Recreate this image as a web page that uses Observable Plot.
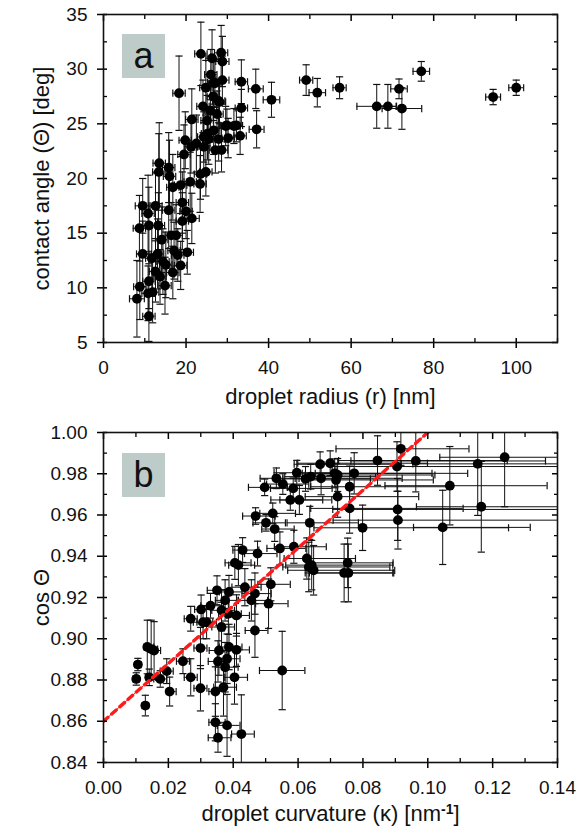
<!DOCTYPE html>
<html>
<head>
<meta charset="utf-8">
<script src="https://cdn.jsdelivr.net/npm/d3@7"></script>
<script src="https://cdn.jsdelivr.net/npm/@observablehq/plot@0.6"></script>
<style>
  html, body { margin: 0; padding: 0; background: #fff; }
  #wrap { position: relative; width: 577px; }
  .panel { display: block; }
  .tag { position: absolute; width: 43px; height: 44px; background: #bdcbc9;
         font-family: "Liberation Sans", Arial, sans-serif; font-size: 36px; color: #111;
         display: flex; align-items: center; justify-content: center; line-height: 1; }
</style>
</head>
<body>
<div id="wrap"></div>
<script>
// ---------- Panel a : contact angle vs droplet radius ----------
const radius = [49.1,51.8,57.2,66.2,68.9,71.6,72.3,77.0,94.4,100.0,40.7,36.9,37.1,33.4,33.4,33.1,32.2,29.9,30.2,28.6,28.8,28.8,28.5,26.3,23.6,18.3,24.8,24.1,21.4,19.8,19.5,21.2,22.5,24.3,25.2,26.6,27.0,27.9,27.5,24.8,23.4,21.0,18.7,16.8,15.8,16.0,13.5,13.4,9.5,12.6,10.8,15.8,19.1,20.0,21.4,19.1,8.7,11.0,13.3,14.1,16.4,17.6,17.1,20.3,18.0,9.5,13.1,11.7,14.4,15.1,18.7,12.6,16.8,13.7,11.0,8.8,11.9,10.8,14.9,8.1,11.0,25.9,25.1,26.7,25.5,27.9,24.3,27.1,23.5,29.6,31.6,26.7,28.1,26.0];
const angle = [29.0,27.85,28.3,26.6,26.6,28.2,26.4,29.8,27.45,28.3,27.2,28.2,24.5,28.85,26.45,23.9,24.85,24.85,23.7,22.6,29.0,30.7,31.5,31.0,31.4,27.8,28.3,26.6,25.4,23.5,22.2,22.9,23.2,23.8,24.1,27.5,28.7,27.1,25.9,20.6,19.5,19.7,19.4,19.2,21.0,20.2,21.4,20.6,17.5,17.5,16.8,17.1,17.8,17.0,16.35,16.1,15.45,15.7,15.7,14.4,14.8,14.8,13.4,13.25,13.0,13.1,13.1,12.7,12.4,12.1,12.05,11.5,11.4,11.0,10.6,10.1,9.6,9.5,10.2,9.0,7.4,26.2,25.3,24.4,23.6,23.6,22.9,22.6,20.4,24.8,24.8,28.8,27.0,29.5];
const radiusErr = [1.6,2.0,1.6,4.8,2.0,2.0,4.8,2.0,1.8,1.8,2.0,1.8,1.8,1.5,1.5,1.5,1.5,1.5,1.5,1.5,1.6,1.6,1.6,1.5,1.5,1.5,1.5,1.5,1.5,1.5,1.5,1.5,1.5,1.5,1.5,1.5,1.5,1.5,1.5,1.5,1.5,1.5,1.5,1.5,1.5,1.5,1.5,1.5,1.8,1.6,1.5,1.5,1.5,1.5,1.8,1.5,1.5,1.5,1.5,1.5,1.5,1.5,1.5,1.5,1.5,1.5,1.5,1.5,1.5,1.5,1.5,1.5,1.5,1.5,1.5,1.5,1.5,1.5,1.5,1.8,1.5,1.5,1.5,1.5,1.5,1.5,1.5,1.5,1.5,1.5,1.5,1.5,1.5,1.5];
const angleErr = [1.4,1.3,1.0,2.0,2.0,0.9,1.9,0.9,0.7,0.7,1.6,1.8,1.7,2.0,1.7,1.7,1.5,1.5,1.8,2.0,2.2,2.3,2.5,2.6,2.9,3.4,2.5,2.4,2.8,2.6,2.7,2.4,2.6,2.3,2.4,2.2,2.2,2.0,2.1,2.2,2.6,2.7,2.6,3.0,3.2,3.3,3.7,3.5,2.5,3.0,3.5,3.5,2.8,2.5,2.3,2.6,3.0,3.5,3.0,3.0,3.0,2.8,2.6,2.0,2.4,3.0,3.2,3.0,3.0,3.0,2.2,2.8,2.4,2.5,2.5,3.0,2.8,2.5,2.6,3.5,2.3,2.2,2.3,2.2,2.3,2.0,2.2,2.1,2.3,1.8,1.6,2.0,2.0,2.3];
const radiusTicks = [0,20,40,60,80,100];
const radiusMinor = [10,30,50,70,90,110];
const angleTicks = [5,10,15,20,25,30,35];
const angleMinor = [7.5,12.5,17.5,22.5,27.5,32.5];

// ---------- Panel b : cos(theta) vs droplet curvature ----------
const curvature = [0.0101,0.0106,0.0129,0.0135,0.0141,0.0147,0.0156,0.0175,0.0195,0.0204,0.0245,0.0269,0.0269,0.0299,0.0299,0.0301,0.0307,0.0330,0.0318,0.0350,0.0345,0.0345,0.0353,0.0381,0.0425,0.0353,0.0356,0.0364,0.0370,0.0375,0.0364,0.0375,0.0387,0.0385,0.0381,0.0387,0.0404,0.0410,0.0410,0.0405,0.0416,0.0429,0.0436,0.0456,0.0467,0.0467,0.0475,0.0469,0.0501,0.0497,0.0522,0.0516,0.0509,0.0528,0.0533,0.0544,0.0553,0.0551,0.0576,0.0585,0.0587,0.0596,0.0604,0.0636,0.0627,0.0633,0.0642,0.0648,0.0623,0.0639,0.0668,0.0671,0.0699,0.0713,0.0717,0.0722,0.0722,0.0759,0.0759,0.0753,0.0742,0.0755,0.0773,0.0799,0.0845,0.0905,0.0917,0.0907,0.0908,0.0963,0.1046,0.1068,0.1154,0.1165,0.1237];
const cosTheta = [0.8805,0.8875,0.8676,0.8960,0.8813,0.8950,0.8943,0.8805,0.8843,0.8744,0.8891,0.9097,0.8813,0.8760,0.8955,0.9142,0.9080,0.9160,0.9080,0.9235,0.8744,0.8595,0.8520,0.8580,0.8538,0.8890,0.8943,0.9057,0.8765,0.8862,0.9138,0.9186,0.9227,0.9121,0.8903,0.8960,0.8813,0.9113,0.8946,0.9368,0.9357,0.9430,0.9250,0.9186,0.9219,0.9040,0.9413,0.9595,0.9562,0.9734,0.9608,0.9264,0.9170,0.9532,0.9778,0.9438,0.9750,0.8846,0.9673,0.9729,0.9446,0.9805,0.9673,0.9562,0.9389,0.9348,0.9357,0.9332,0.9775,0.9786,0.9846,0.9778,0.9851,0.9802,0.9770,0.9794,0.9689,0.9737,0.9632,0.9368,0.9319,0.9319,0.9802,0.9538,0.9864,0.9835,0.9921,0.9627,0.9575,0.9862,0.9540,0.9742,0.9848,0.9640,0.9880];
const curvErrLow = [0.001,0.001,0.001,0.001,0.001,0.001,0.001,0.002,0.002,0.001,0.002,0.002,0.002,0.002,0.002,0.002,0.003,0.003,0.003,0.003,0.002,0.002,0.003,0.003,0.003,0.003,0.003,0.003,0.003,0.003,0.003,0.003,0.003,0.003,0.003,0.003,0.003,0.003,0.003,0.003,0.003,0.003,0.004,0.004,0.004,0.003,0.004,0.004,0.004,0.005,0.004,0.004,0.004,0.004,0.005,0.004,0.005,0.007,0.006,0.007,0.006,0.007,0.006,0.007,0.007,0.008,0.008,0.008,0.007,0.008,0.008,0.008,0.010,0.010,0.010,0.010,0.010,0.012,0.012,0.012,0.012,0.012,0.012,0.015,0.012,0.020,0.020,0.020,0.020,0.020,0.009,0.020,0.020,0.020,0.020];
const curvErrHigh = [0.001,0.001,0.001,0.002,0.002,0.002,0.002,0.002,0.002,0.002,0.002,0.002,0.002,0.002,0.002,0.003,0.003,0.004,0.003,0.004,0.003,0.003,0.004,0.004,0.004,0.003,0.003,0.004,0.004,0.004,0.004,0.004,0.005,0.004,0.004,0.004,0.004,0.004,0.004,0.005,0.005,0.005,0.005,0.005,0.005,0.004,0.006,0.006,0.006,0.007,0.007,0.006,0.006,0.006,0.007,0.008,0.008,0.007,0.010,0.012,0.010,0.012,0.010,0.015,0.015,0.025,0.025,0.025,0.020,0.020,0.025,0.025,0.030,0.030,0.030,0.030,0.025,0.030,0.035,0.014,0.015,0.014,0.035,0.045,0.040,0.050,0.021,0.050,0.050,0.040,0.027,0.030,0.030,0.040,0.040];
const cosErr = [0.003,0.003,0.005,0.013,0.004,0.014,0.014,0.004,0.006,0.007,0.006,0.006,0.009,0.011,0.010,0.007,0.008,0.006,0.008,0.007,0.012,0.009,0.007,0.015,0.019,0.010,0.012,0.012,0.014,0.012,0.010,0.010,0.008,0.010,0.012,0.011,0.013,0.010,0.008,0.008,0.010,0.006,0.009,0.010,0.010,0.013,0.006,0.004,0.004,0.004,0.005,0.008,0.012,0.006,0.005,0.008,0.005,0.019,0.005,0.005,0.008,0.006,0.007,0.008,0.010,0.012,0.012,0.012,0.006,0.006,0.006,0.008,0.006,0.007,0.008,0.008,0.010,0.010,0.012,0.012,0.014,0.014,0.010,0.011,0.012,0.012,0.008,0.015,0.014,0.015,0.018,0.019,0.025,0.022,0.024];
const fitCurvature = [0.0, 0.1];
const fitCos = [0.86, 1.0];
const curvTicks = [0,0.02,0.04,0.06,0.08,0.10,0.12,0.14];
const curvMinor = [0.01,0.03,0.05,0.07,0.09,0.11,0.13];
const cosTicks = [0.84,0.86,0.88,0.90,0.92,0.94,0.96,0.98,1.00];
const cosMinor = [0.85,0.87,0.89,0.91,0.93,0.95,0.97,0.99];

// ---------- helpers ----------
const FONT = '"Liberation Sans Narrow", "Arial Narrow", "Liberation Sans", Arial, sans-serif';
const hbar = {draw(ctx, size) { const r = Math.sqrt(size / Math.PI); ctx.moveTo(-r, 0); ctx.lineTo(r, 0); }};
const vbar = {draw(ctx, size) { const r = Math.sqrt(size / Math.PI); ctx.moveTo(0, -r); ctx.lineTo(0, r); }};
const blank = () => "";

function frameAxes(xt, xm, yt, ym, xfmt, yfmt) {
  return [
    Plot.axisX({anchor: "bottom", ticks: xt, tickSize: 0, tickPadding: 18, tickFormat: xfmt, fontSize: 19, fill: "#111"}),
    Plot.axisY({anchor: "left", ticks: yt, tickSize: 0, tickPadding: 16, tickFormat: yfmt, fontSize: 19, fill: "#111"}),
    Plot.axisX({anchor: "bottom", ticks: xt, tickSize: 10, dy: -4, tickFormat: blank, strokeWidth: 1.5}),
    Plot.axisY({anchor: "left", ticks: yt, tickSize: 10, dx: 4, tickFormat: blank, strokeWidth: 1.5}),
    Plot.axisX({anchor: "bottom", ticks: xm, tickSize: 4, dy: -4, tickFormat: blank, strokeWidth: 1.3}),
    Plot.axisY({anchor: "left", ticks: ym, tickSize: 4, dx: 4, tickFormat: blank, strokeWidth: 1.3}),
    Plot.axisX({anchor: "top", ticks: xt, tickSize: 6, dy: 6, tickFormat: blank, strokeWidth: 1.5}),
    Plot.axisX({anchor: "top", ticks: xm, tickSize: 4, dy: 4, tickFormat: blank, strokeWidth: 1.3}),
    Plot.axisY({anchor: "right", ticks: yt, tickSize: 6, dx: -6, tickFormat: blank, strokeWidth: 1.5}),
    Plot.axisY({anchor: "right", ticks: ym, tickSize: 4, dx: -4, tickFormat: blank, strokeWidth: 1.3}),
    Plot.frame({stroke: "#111", strokeWidth: 1.6})
  ];
}

function errorMarks(rows) {
  return [
    Plot.ruleX(rows, {x: "x", y1: "ylo", y2: "yhi", stroke: "#111", strokeWidth: 1, clip: true}),
    Plot.ruleY(rows, {y: "y", x1: "xlo", x2: "xhi", stroke: "#111", strokeWidth: 1, clip: true}),
    Plot.dot(rows, {x: "x", y: "ylo", symbol: hbar, r: 3.6, stroke: "#111", fill: "none", strokeWidth: 1.2, clip: true}),
    Plot.dot(rows, {x: "x", y: "yhi", symbol: hbar, r: 3.6, stroke: "#111", fill: "none", strokeWidth: 1.2, clip: true}),
    Plot.dot(rows, {x: "xlo", y: "y", symbol: vbar, r: 3.6, stroke: "#111", fill: "none", strokeWidth: 1.2, clip: true}),
    Plot.dot(rows, {x: "xhi", y: "y", symbol: vbar, r: 3.6, stroke: "#111", fill: "none", strokeWidth: 1.2, clip: true}),
    Plot.dot(rows, {x: "x", y: "y", r: 4.9, fill: "#000", stroke: "none", clip: true})
  ];
}

const rowsA = radius.map((x, i) => ({
  x, y: angle[i], xlo: x - radiusErr[i], xhi: x + radiusErr[i],
  ylo: angle[i] - angleErr[i], yhi: angle[i] + angleErr[i]
}));
const rowsB = curvature.map((x, i) => ({
  x, y: cosTheta[i], xlo: x - curvErrLow[i], xhi: x + curvErrHigh[i],
  ylo: cosTheta[i] - cosErr[i], yhi: cosTheta[i] + cosErr[i]
}));
const fitRows = fitCurvature.map((x, i) => ({x, y: fitCos[i]}));

const plotA = Plot.plot({
  width: 577, height: 415,
  marginTop: 14, marginRight: 20, marginBottom: 73, marginLeft: 103,
  style: {fontFamily: FONT, background: "#fff", overflow: "visible"},
  x: {domain: [0, 110]},
  y: {domain: [5, 35]},
  marks: [
    ...errorMarks(rowsA),
    ...frameAxes(radiusTicks, radiusMinor, angleTicks, angleMinor, d3.format("d"), d3.format("d")),
    Plot.text(["droplet radius (r) [nm]"], {frameAnchor: "bottom", dy: 61, fontSize: 22, fill: "#111"}),
    Plot.text(["contact angle (\u0398) [deg]"], {frameAnchor: "left", textAnchor: "middle", dx: -62, rotate: -90, fontSize: 22, fill: "#111"})
  ]
});

const plotB = Plot.plot({
  width: 577, height: 421,
  marginTop: 17, marginRight: 20, marginBottom: 74, marginLeft: 103,
  style: {fontFamily: FONT, background: "#fff", overflow: "visible"},
  x: {domain: [0, 0.14]},
  y: {domain: [0.84, 1.0]},
  marks: [
    ...errorMarks(rowsB),
    Plot.line(fitRows, {x: "x", y: "y", stroke: "#ff1a1a", strokeWidth: 1, clip: true}),
    Plot.line(fitRows, {x: "x", y: "y", stroke: "#ff1a1a", strokeWidth: 3.4, strokeDasharray: "6,5", strokeLinecap: "round", clip: true}),
    ...frameAxes(curvTicks, curvMinor, cosTicks, cosMinor, d3.format(".2f"), d3.format(".2f")),
    Plot.text(["droplet curvature (\u03BA) [nm-1]"], {frameAnchor: "bottom", dy: 58, fontSize: 22, fill: "#111", className: "xlabB"}),
    Plot.text(["cos \u0398"], {frameAnchor: "left", textAnchor: "middle", dx: -62, rotate: -90, fontSize: 22, fill: "#111"})
  ]
});

const wrap = document.getElementById("wrap");
plotA.classList.add("panel");
plotB.classList.add("panel");
wrap.appendChild(plotA);
wrap.appendChild(plotB);

// superscript for nm^-1
const lab = plotB.querySelector(".xlabB text");
if (lab) {
  lab.textContent = "";
  const ns = "http://www.w3.org/2000/svg";
  const t1 = document.createElementNS(ns, "tspan"); t1.textContent = "droplet curvature (\u03BA) [nm";
  const t2 = document.createElementNS(ns, "tspan"); t2.textContent = "-1"; t2.setAttribute("dy", "-7"); t2.setAttribute("font-size", "14"); t2.setAttribute("font-weight", "bold");
  const t3 = document.createElementNS(ns, "tspan"); t3.textContent = "]"; t3.setAttribute("dy", "7");
  lab.append(t1, t2, t3);
}

// panel tags
for (const [txt, top] of [["a", 34], ["b", 453]]) {
  const d = document.createElement("div");
  d.className = "tag"; d.textContent = txt;
  d.style.left = "122px"; d.style.top = top + "px";
  wrap.appendChild(d);
}
</script>
</body>
</html>
